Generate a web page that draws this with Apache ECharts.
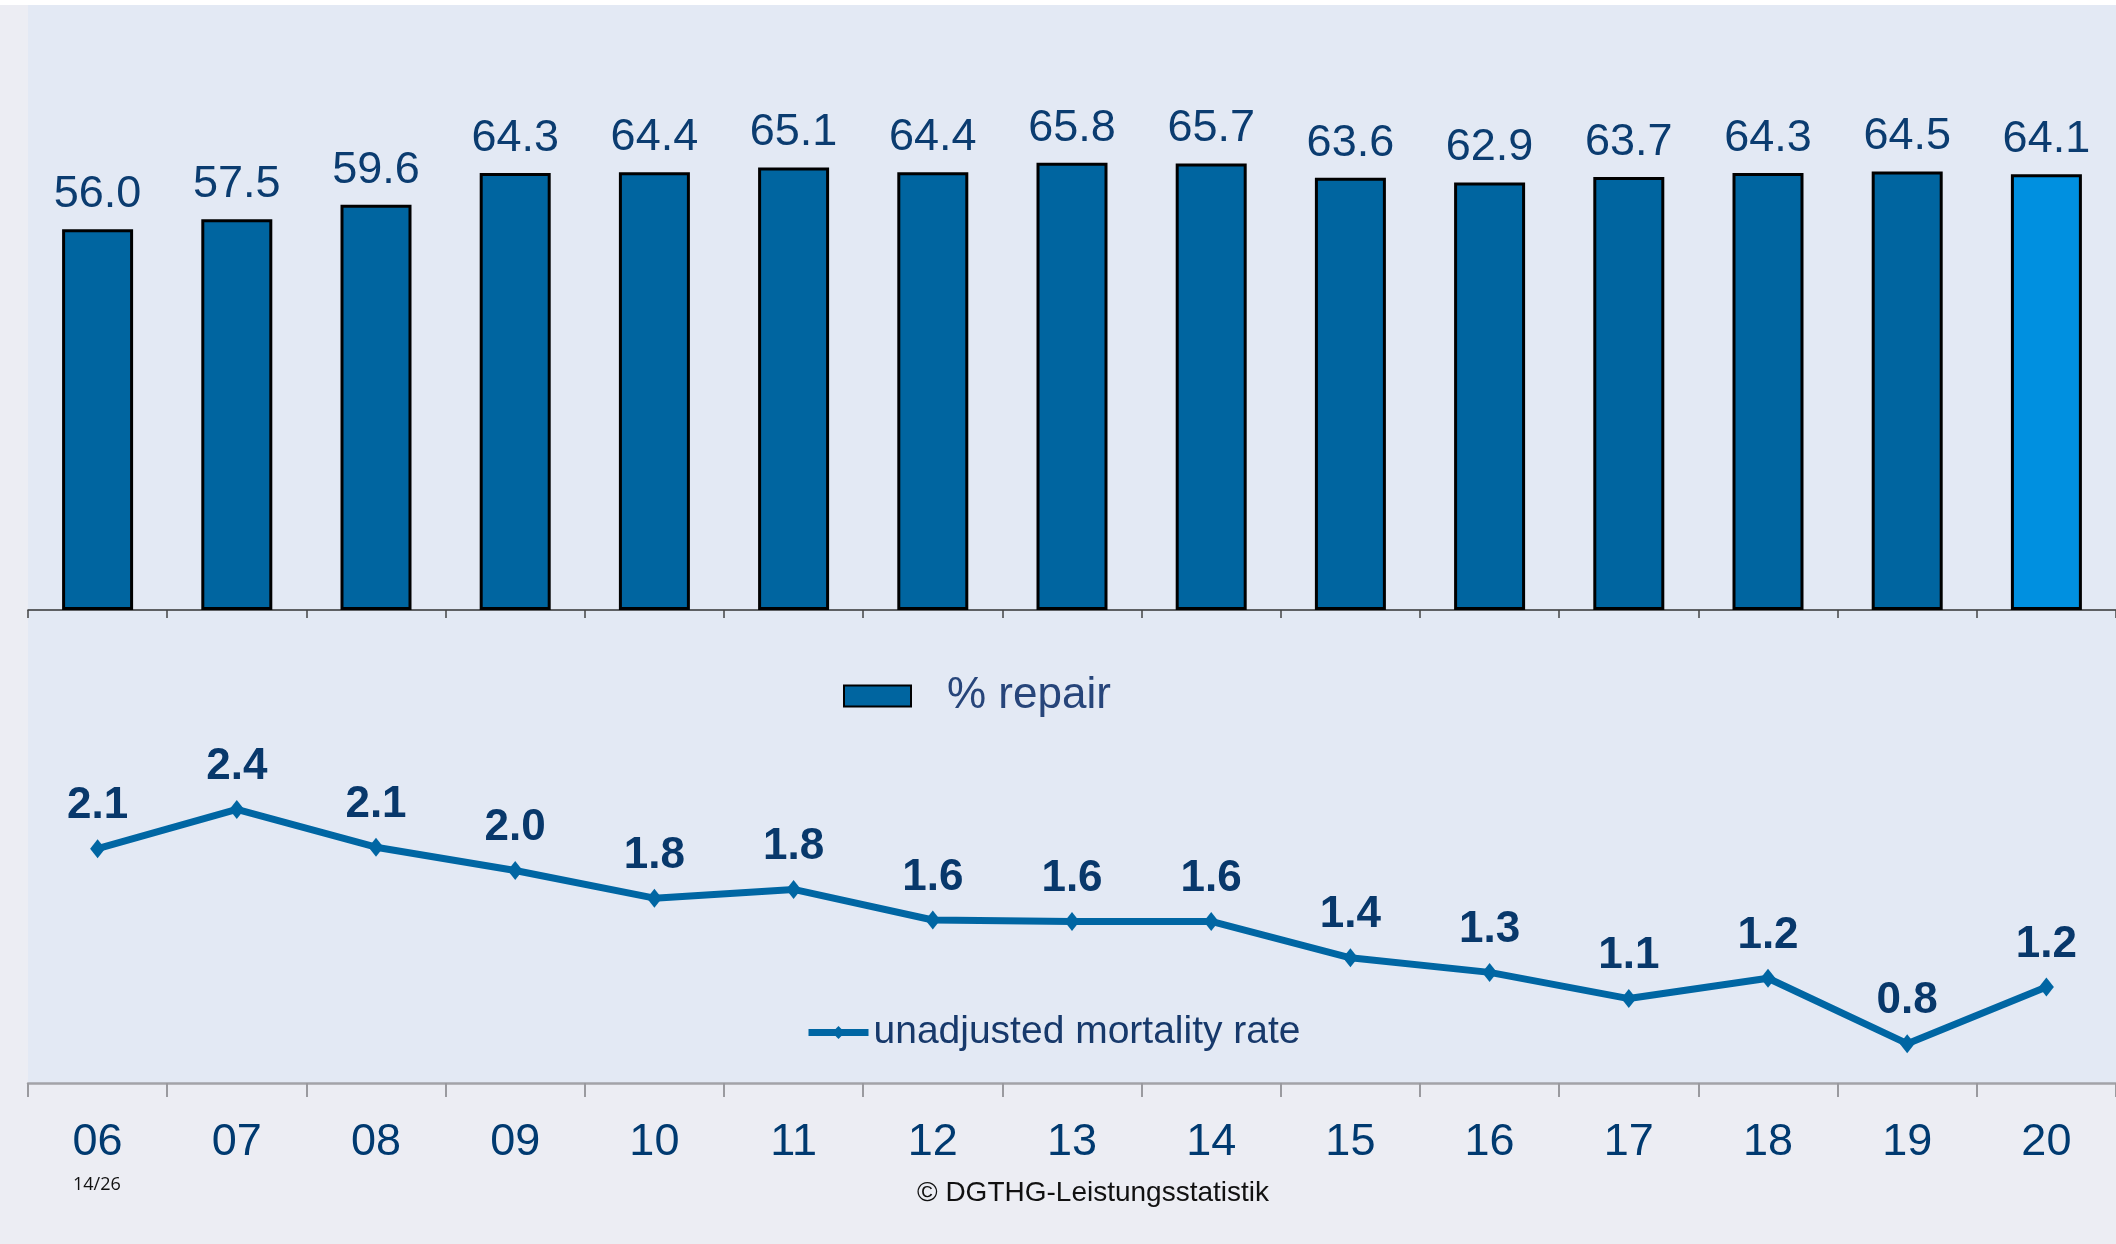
<!DOCTYPE html>
<html>
<head>
<meta charset="utf-8">
<script src="https://cdn.jsdelivr.net/npm/echarts@6/dist/echarts.min.js"></script>
<style>
    html, body { margin: 0; padding: 0; background: #ecedf3; }
    #chart { width: 2116px; height: 1244px; }
</style>
</head>
<body>
<div id="chart"></div>
<script>
    // years on the x axis (20xx)
    var years = ['06', '07', '08', '09', '10', '11', '12', '13', '14', '15', '16', '17', '18', '19', '20'];
    // % repair, bars
    var repair = [56.0, 57.5, 59.6, 64.3, 64.4, 65.1, 64.4, 65.8, 65.7, 63.6, 62.9, 63.7, 64.3, 64.5, 64.1];
    // unadjusted mortality rate, line (estimated from the plot, labels show one decimal)
    var mortality = [2.11, 2.38, 2.12, 1.96, 1.77, 1.83, 1.62, 1.61, 1.61, 1.36, 1.26, 1.08, 1.22, 0.77, 1.16];

    var font = 'Liberation Sans, Arial, sans-serif';
    var myChart = echarts.init(document.getElementById('chart'));

    var barData = [];
    for (var i = 0; i < repair.length; i++) {
        if (i == repair.length - 1) {
            barData.push({ value: repair[i], itemStyle: { color: '#0090e0' } });
        } else {
            barData.push(repair[i]);
        }
    }

    var options = {
        backgroundColor: '#ecedf3',
        animation: false,
        grid: [
            { left: 28, right: 0, top: 5, bottom: 634, show: true, backgroundColor: '#e3e9f4', borderWidth: 0 },
            { left: 28, right: 0, top: 610, bottom: 161, show: true, backgroundColor: '#e3e9f4', borderWidth: 0 }
        ],
        legend: [
            {
                data: [{ name: '% repair', icon: 'rect' }],
                left: 838,
                top: 669,
                itemWidth: 67,
                itemHeight: 21,
                textStyle: { fontFamily: font, fontSize: 44, color: '#27457a', padding: [0, 0, 0, 31] }
            },
            {
                data: ['unadjusted mortality rate'],
                left: 800,
                top: 1008,
                itemWidth: 60,
                itemHeight: 16,
                lineStyle: { width: 7 },
                textStyle: { fontFamily: font, fontSize: 39, color: '#17396b' }
            }
        ],
        xAxis: [
            {
                type: 'category',
                gridIndex: 0,
                data: years,
                axisLine: { lineStyle: { color: '#333', width: 1.5 } },
                axisTick: { show: true, length: 8, lineStyle: { color: '#444', width: 1.5 } },
                axisLabel: { show: false }
            },
            {
                type: 'category',
                gridIndex: 1,
                data: years,
                axisLine: { lineStyle: { color: '#a3a3a8', width: 2.5 } },
                axisTick: { show: true, length: 14, lineStyle: { color: '#9a9a9f', width: 2 } },
                axisLabel: { fontFamily: font, fontSize: 45, color: '#003a70', margin: 37 }
            }
        ],
        yAxis: [
            { type: 'value', gridIndex: 0, min: 0, max: 89, show: false },
            { type: 'value', gridIndex: 1, min: 0.5, max: 3.75, show: false }
        ],
        series: [
            {
                name: '% repair',
                type: 'bar',
                xAxisIndex: 0,
                yAxisIndex: 0,
                barWidth: 71,
                itemStyle: { color: '#0065a0', borderColor: '#000', borderWidth: 3 },
                label: {
                    show: true,
                    position: 'top',
                    distance: 12,
                    fontFamily: font,
                    fontSize: 45,
                    color: '#0b3c70',
                    formatter: function (p) { return p.value.toFixed(1); }
                },
                data: barData
            },
            {
                name: 'unadjusted mortality rate',
                type: 'line',
                xAxisIndex: 1,
                yAxisIndex: 1,
                symbol: 'diamond',
                symbolSize: [15, 19],
                lineStyle: { color: '#0066a3', width: 7 },
                itemStyle: { color: '#0066a3' },
                label: {
                    show: true,
                    position: 'top',
                    distance: 11,
                    fontFamily: font,
                    fontSize: 44,
                    fontWeight: 'bold',
                    color: '#08386b',
                    formatter: function (p) { return p.value.toFixed(1); }
                },
                data: mortality
            }
        ],
        graphic: [
            { type: 'rect', shape: { x: 0, y: 0, width: 2116, height: 5 }, style: { fill: '#ffffff' } },
            {
                type: 'text', x: 73, y: 1185,
                style: { text: '14/26', fontFamily: 'Open Sans, sans-serif', fontSize: 18, fill: '#111', verticalAlign: 'middle' }
            },
            {
                type: 'text', x: 1093, y: 1193,
                style: {
                    text: '\u00a9 DGTHG-Leistungsstatistik',
                    fontFamily: 'Liberation Sans Narrow, Liberation Sans, sans-serif',
                    fontSize: 28, fill: '#111', align: 'center', verticalAlign: 'middle'
                }
            }
        ]
    };
    myChart.setOption(options);
</script>
</body>
</html>
